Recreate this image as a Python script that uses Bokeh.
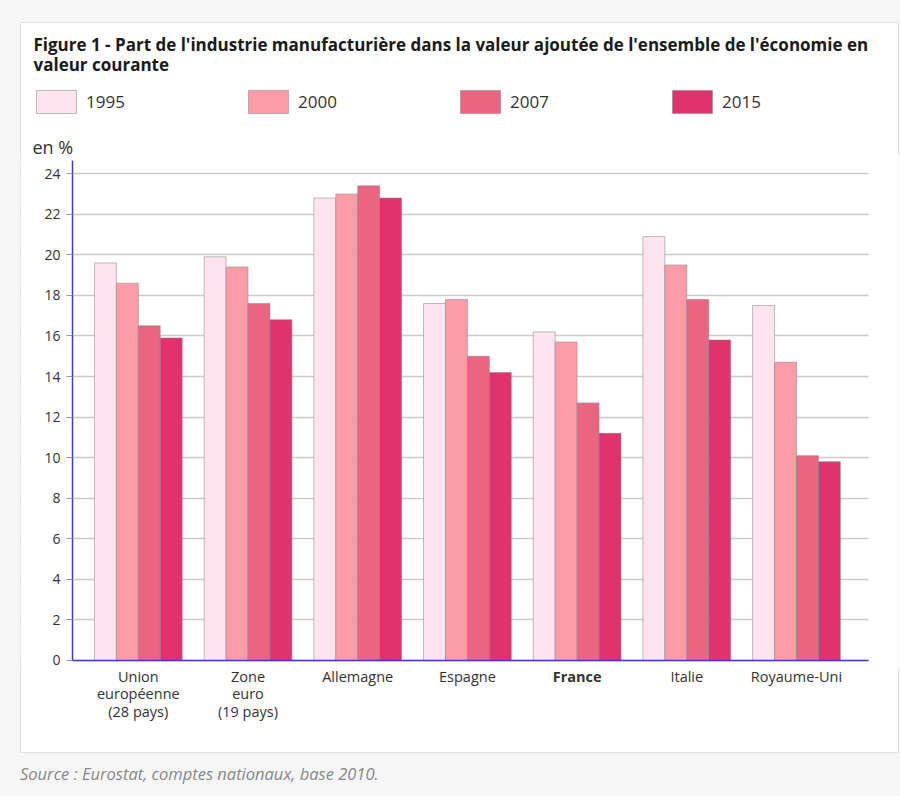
from bokeh.plotting import figure
from bokeh.layouts import column
from bokeh.models import (ColumnDataSource, Range1d, Legend, LegendItem, Label, LabelSet,
                          Div, FixedTicker, BoxAnnotation)
from bokeh.transform import dodge
from bokeh.embed import file_html
from bokeh.resources import INLINE
from bokeh.core.properties import value

# ---- data ----
categories = ["Union\neuropéenne\n(28 pays)", "Zone\neuro\n(19 pays)", "Allemagne",
              "Espagne", "France", "Italie", "Royaume-Uni"]
category_style = ["normal", "normal", "normal", "normal", "bold", "normal", "normal"]
years = ["1995", "2000", "2007", "2015"]
v1995 = [19.6, 19.9, 22.8, 17.6, 16.2, 20.9, 17.5]
v2000 = [18.6, 19.4, 23.0, 17.8, 15.7, 19.5, 14.7]
v2007 = [16.5, 17.6, 23.4, 15.0, 12.7, 17.8, 10.1]
v2015 = [15.9, 16.8, 22.8, 14.2, 11.2, 15.8, 9.8]
y_ticks = [0, 2, 4, 6, 8, 10, 12, 14, 16, 18, 20, 22, 24]
title_line1 = "Figure 1 - Part de l'industrie manufacturière dans la valeur ajoutée de l'ensemble de l'économie en"
title_line2 = "valeur courante"
unit_text = "en %"
source_text = "Source : Eurostat, comptes nationaux, base 2010."

colors = ["#fde4ee", "#fd9ca6", "#eb6582", "#e0326d"]
FONT = "Open Sans"
AXIS_BLUE = "#3d3dbd"

# ---- layout constants (category slots of width 1, centred on 0..n-1) ----
X_AXIS_AT = -0.6          # where the value axis crosses
X_AXIS_END = 6.656        # right end of the category axis
Y_TOP = 24.65             # top of the value axis
positions = list(range(len(categories)))

source = ColumnDataSource(dict(pos=positions, y1995=v1995, y2000=v2000,
                               y2007=v2007, y2015=v2015))

W, H = 879, 731
p = figure(width=W, height=H, output_backend="svg", toolbar_location=None,
           x_range=Range1d(-1.074, 6.939), y_range=Range1d(-4.585, 31.453),
           min_border_left=0, min_border_right=0, min_border_top=0, min_border_bottom=0)
p.border_fill_color = "white"
p.background_fill_color = "white"
p.outline_line_color = "#e2e2e2"

offsets = [-0.3, -0.1, 0.1, 0.3]
renderers = []
for yr, off, col in zip(years, offsets, colors):
    r = p.vbar(x=dodge("pos", off), top="y" + yr, bottom=0, width=0.2, source=source,
               fill_color=col, line_color="#888888", line_alpha=0.55, line_width=1)
    renderers.append(r)

# grid (limited to the plotting area by white masks outside the axes)
p.xgrid.visible = False
p.ygrid.ticker = FixedTicker(ticks=y_ticks)
p.ygrid.grid_line_color = "#cccccc"
p.ygrid.grid_line_width = 1.5
for kw in (dict(right=X_AXIS_AT), dict(left=X_AXIS_END)):
    p.add_layout(BoxAnnotation(bottom=-0.4, top=Y_TOP + 0.3, fill_color="white", fill_alpha=1.0,
                               line_color=None, level="glyph", **kw))

# value axis
p.yaxis.fixed_location = X_AXIS_AT
p.yaxis.bounds = (0, Y_TOP)
p.yaxis.ticker = FixedTicker(ticks=y_ticks)
p.yaxis.axis_line_color = AXIS_BLUE
p.yaxis.axis_line_width = 1.5
p.yaxis.major_tick_line_color = "#999999"
p.yaxis.major_tick_out = 6
p.yaxis.major_tick_in = 0
p.yaxis.minor_tick_line_color = None
p.yaxis.major_label_text_font = FONT
p.yaxis.major_label_text_font_size = "14px"
p.yaxis.major_label_text_color = "#333333"
p.yaxis.major_label_standoff = 6

# category axis line
p.xaxis.fixed_location = 0
p.xaxis.bounds = (X_AXIS_AT, X_AXIS_END)
p.xaxis.axis_line_color = AXIS_BLUE
p.xaxis.axis_line_width = 1.5
p.xaxis.major_tick_line_color = None
p.xaxis.minor_tick_line_color = None
p.xaxis.major_label_text_color = None

# category labels, one LabelSet per text line so every line is centred
label_lines = [c.split("\n") for c in categories]
for k in range(max(len(ls) for ls in label_lines)):
    idx = [i for i, ls in enumerate(label_lines) if len(ls) > k]
    src_k = ColumnDataSource(dict(pos=[positions[i] for i in idx],
                                  text=[label_lines[i][k] for i in idx],
                                  style=[category_style[i] for i in idx]))
    p.add_layout(LabelSet(x="pos", y=87 - 17.5 * k, y_units="screen", text="text",
                          source=src_k, text_font=value(FONT), text_font_size="14.5px",
                          text_font_style="style", text_color="#333333",
                          text_align="center", text_baseline="top"))

# title, unit, legend (screen units from the panel's bottom-left corner)
p.add_layout(Label(x=13, y=709, x_units="screen", y_units="screen", text=title_line1,
                   text_font=FONT, text_font_size="17px", text_font_style="bold",
                   text_color="#1a1a1a", text_baseline="middle"))
p.add_layout(Label(x=13, y=689, x_units="screen", y_units="screen", text=title_line2,
                   text_font=FONT, text_font_size="17px", text_font_style="bold",
                   text_color="#1a1a1a", text_baseline="middle"))
p.add_layout(Label(x=12, y=607, x_units="screen", y_units="screen", text=unit_text,
                   text_font=FONT, text_font_size="18px", text_color="#333333",
                   text_baseline="middle"))

legend = Legend(items=[LegendItem(label=yr, renderers=[r]) for yr, r in zip(years, renderers)],
                orientation="horizontal", location=(11, 637),
                glyph_width=50, glyph_height=29, label_standoff=5, label_width=50,
                spacing=107, padding=0, margin=0, border_line_color=None,
                background_fill_alpha=0, label_text_font=FONT,
                label_text_font_size="17px", label_text_color="#333333")
p.add_layout(legend)

src = Div(text=source_text, width=W, height=24, margin=(11, 0, 0, 0),
          styles={"font-family": "Open Sans", "font-style": "italic", "font-size": "16.5px",
                  "color": "#888888", "line-height": "20px"})

layout = column(p, src, spacing=0,
                styles={"background-color": "#f6f6f6", "padding": "22px 1px 8px 20px"})

open("out.html", "w").write(file_html(layout, INLINE))
